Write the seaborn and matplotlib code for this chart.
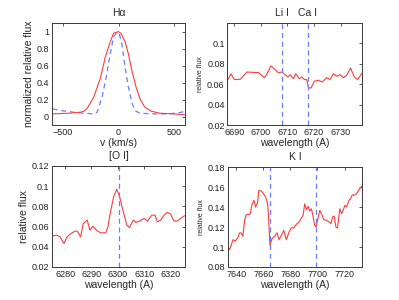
import numpy as np
import pandas as pd
import matplotlib
matplotlib.use("Agg")
import matplotlib.pyplot as plt
import matplotlib.transforms as mtransforms
import seaborn as sns

# %%
# Data
# H-alpha profile (velocity in km/s, normalized flux)
ha_v_red = [-588, -440, -340, -309, -279, -221, -162, -118, -74, -44, 0, 21, 59, 88, 118, 156, 191, 235, 294, 368, 485, 588]
ha_f_red = [0.032, 0.040, 0.052, 0.062, 0.099, 0.23, 0.45, 0.70, 0.88, 0.98, 1.0, 0.98, 0.88, 0.74, 0.55, 0.35, 0.21, 0.11, 0.063, 0.040, 0.032, 0.024]
ha_v_blue = [-588, -515, -397, -309, -221, -191, -147, -109, -79, -44, -15, 6, 29, 59, 88, 118, 147, 191, 309, 426, 515, 588]
ha_f_blue = [0.091, 0.071, 0.051, 0.040, 0.032, 0.051, 0.23, 0.47, 0.70, 0.94, 0.99, 0.98, 0.86, 0.58, 0.35, 0.17, 0.07, 0.04, 0.032, 0.032, 0.040, 0.059]

# Li I / Ca I region
li_wl = [6687.6, 6688.75, 6690.0, 6692.25, 6694.75, 6696.6, 6699.1, 6701.25, 6702.25, 6703.75,
         6705.4, 6706.6, 6707.9, 6709.1, 6710.1, 6711.0, 6712.25, 6713.1, 6714.4, 6715.4,
         6716.4, 6717.25, 6717.9, 6718.9, 6720.1, 6721.6, 6723.1, 6724.75, 6726.0, 6727.25,
         6728.5, 6729.75, 6731.0, 6732.25, 6733.75, 6735.1, 6736.4, 6737.9]
li_flux = [0.0644, 0.0700, 0.0644, 0.0647, 0.0718, 0.0715, 0.0712, 0.0663, 0.0696, 0.0777,
           0.0741, 0.0709, 0.0718, 0.0692, 0.0670, 0.0692, 0.0653, 0.0702, 0.0653, 0.0670,
           0.0644, 0.0644, 0.0563, 0.0563, 0.0628, 0.0637, 0.0621, 0.0663, 0.0644, 0.0702,
           0.0676, 0.0692, 0.0663, 0.0686, 0.0757, 0.0670, 0.0644, 0.0702]
li_lines = [6707.8, 6717.7]

# [O I] region
oi_wl = [6275.0, 6276.9, 6278.1, 6279.6, 6280.6, 6281.9, 6283.75, 6284.6, 6285.9, 6286.9,
         6288.4, 6289.4, 6290.6, 6291.9, 6293.4, 6295.4, 6296.25, 6297.1, 6298.4, 6299.6,
         6300.6, 6301.9, 6303.4, 6304.4, 6305.9, 6306.9, 6308.4, 6310.0, 6311.25, 6312.9,
         6314.1, 6315.0, 6316.25, 6317.5, 6318.75, 6320.0, 6321.25, 6322.5, 6323.75, 6325.25]
oi_flux = [0.0508, 0.0515, 0.0498, 0.0432, 0.0491, 0.0525, 0.0554, 0.0554, 0.0498, 0.0630,
           0.0664, 0.0564, 0.0604, 0.0564, 0.0538, 0.0538, 0.0597, 0.0730, 0.0895, 0.0968,
           0.0902, 0.0763, 0.0614, 0.0591, 0.0664, 0.0640, 0.0657, 0.0680, 0.0654, 0.0713,
           0.0713, 0.0647, 0.0664, 0.0713, 0.0740, 0.0723, 0.0654, 0.0654, 0.0680, 0.0707]
oi_lines = [6300.3]

# K I region
ki_wl = [7633.8, 7635.1, 7636.3, 7637.5, 7639.3, 7641.2, 7642.5, 7643.7, 7644.9, 7646.2,
         7647.4, 7649.4, 7650.4, 7651.6, 7653.1, 7654.3, 7655.6, 7656.8, 7658.5, 7660.2,
         7661.7, 7663.2, 7664.0, 7664.9, 7666.4, 7668.4, 7670.1, 7671.6, 7673.3, 7675.1,
         7677.0, 7679.0, 7680.7, 7682.5, 7684.4, 7686.4, 7688.1, 7689.4, 7690.6, 7691.9,
         7693.1, 7694.3, 7695.6, 7696.8, 7698.0, 7699.0, 7700.0, 7701.7, 7703.5, 7704.7,
         7706.7, 7708.6, 7709.9, 7711.1, 7712.3, 7713.6, 7714.8, 7716.5, 7717.8, 7719.0,
         7720.2, 7721.5, 7723.2, 7724.4, 7725.7, 7726.9, 7728.9, 7730.6, 7732.6]
ki_flux = [0.1000, 0.0973, 0.1017, 0.1073, 0.1060, 0.1093, 0.1143, 0.1140, 0.1107, 0.1267,
           0.1323, 0.1327, 0.1333, 0.1423, 0.1467, 0.1400, 0.1440, 0.1567, 0.1560, 0.1533,
           0.1500, 0.1433, 0.1267, 0.1017, 0.1083, 0.1107, 0.1143, 0.1073, 0.1117, 0.1167,
           0.1073, 0.1150, 0.1193, 0.1190, 0.1227, 0.1250, 0.1290, 0.1317, 0.1433, 0.1373,
           0.1407, 0.1360, 0.1383, 0.1300, 0.1217, 0.1200, 0.1267, 0.1367, 0.1317, 0.1273,
           0.1267, 0.1250, 0.1233, 0.1300, 0.1310, 0.1200, 0.1190, 0.1383, 0.1333, 0.1367,
           0.1417, 0.1400, 0.1467, 0.1483, 0.1523, 0.1517, 0.1533, 0.1573, 0.1607]
ki_lines = [7664.9, 7699.0]

RED = "#ff3b3b"
BLUE = "#6a7cff"
AXCOL = "#3a3a3a"
TICK_FS = 6.5
LABEL_FS = 7.5
SMALL_FS = 5

# %%
# Style (MATLAB-like boxed axes)
sns.set_style("white")
plt.rcParams["font.family"] = ["Liberation Sans", "DejaVu Sans"]
plt.rcParams["xtick.direction"] = "in"
plt.rcParams["ytick.direction"] = "in"

fig = plt.figure(figsize=(3.99, 3.0), dpi=100)
ax_ha = fig.add_axes([0.130, 0.583, 0.334, 0.340])
ax_li = fig.add_axes([0.570, 0.583, 0.337, 0.340])
ax_oi = fig.add_axes([0.130, 0.110, 0.334, 0.337])
ax_ki = fig.add_axes([0.571, 0.110, 0.336, 0.333])


def style_axes(ax):
    for s in ax.spines.values():
        s.set_color(AXCOL)
        s.set_linewidth(0.7)
    ax.tick_params(axis="both", which="both", direction="in", length=2.5, width=0.6,
                   color=AXCOL, labelsize=TICK_FS, pad=2, top=True, right=True,
                   labelcolor="#222222")


def draw_spec(ax, wl, flux, lines):
    df = pd.DataFrame({"wl": wl, "flux": flux})
    sns.lineplot(data=df, x="wl", y="flux", ax=ax, color=RED, lw=0.8, sort=False)
    for lw_ in lines:
        ax.axvline(lw_, color=BLUE, ls=(0, (4, 3)), lw=0.9)
    ax.set_xlabel("wavelength (A)", fontsize=LABEL_FS, labelpad=1)


# H-alpha panel
df_r = pd.DataFrame({"v": ha_v_red, "f": ha_f_red})
df_b = pd.DataFrame({"v": ha_v_blue, "f": ha_f_blue})
sns.lineplot(data=df_b, x="v", y="f", ax=ax_ha, color=BLUE, lw=0.9, ls=(0, (4, 3)), sort=False)
sns.lineplot(data=df_r, x="v", y="f", ax=ax_ha, color=RED, lw=0.8, sort=False)
ax_ha.set_xlim(-595, 595)
ax_ha.set_ylim(-0.1, 1.1)
ax_ha.set_xticks([-500, 0, 500])
ax_ha.set_yticks([0, 0.2, 0.4, 0.6, 0.8, 1])
ax_ha.set_yticklabels(["0", "0.2", "0.4", "0.6", "0.8", "1"])
ax_ha.set_xlabel("v (km/s)", fontsize=LABEL_FS, labelpad=1)
ax_ha.set_ylabel("normalized relative flux", fontsize=LABEL_FS, labelpad=2)
ax_ha.set_title("H\u03b1", fontsize=LABEL_FS, pad=5)

# Li I / Ca I panel
draw_spec(ax_li, li_wl, li_flux, li_lines)
ax_li.set_xlim(6687.4, 6738.0)
ax_li.set_ylim(0.02, 0.1195)
ax_li.set_xticks([6690, 6700, 6710, 6720, 6730])
ax_li.set_yticks([0.02, 0.04, 0.06, 0.08, 0.1])
ax_li.set_yticklabels(["0.02", "0.04", "0.06", "0.08", "0.1"])
ax_li.set_ylabel("relative flux", fontsize=SMALL_FS, labelpad=2)
trans = mtransforms.blended_transform_factory(ax_li.transData, ax_li.transAxes)
ax_li.text(li_lines[0], 1.05, "Li I", transform=trans, ha="center", va="bottom", fontsize=LABEL_FS)
ax_li.text(li_lines[1], 1.05, "Ca I", transform=trans, ha="center", va="bottom", fontsize=LABEL_FS)

# [O I] panel
draw_spec(ax_oi, oi_wl, oi_flux, oi_lines)
ax_oi.set_xlim(6275, 6325.5)
ax_oi.set_ylim(0.02, 0.12)
ax_oi.set_xticks([6280, 6290, 6300, 6310, 6320])
ax_oi.set_yticks([0.02, 0.04, 0.06, 0.08, 0.1, 0.12])
ax_oi.set_yticklabels(["0.02", "0.04", "0.06", "0.08", "0.1", "0.12"])
ax_oi.set_ylabel("relative flux", fontsize=LABEL_FS, labelpad=2)
ax_oi.set_title("[O I]", fontsize=LABEL_FS, pad=5)

# K I panel
draw_spec(ax_ki, ki_wl, ki_flux, ki_lines)
ax_ki.set_xlim(7633.8, 7732.8)
ax_ki.set_ylim(0.08, 0.18)
ax_ki.set_xticks([7640, 7660, 7680, 7700, 7720])
ax_ki.set_yticks([0.08, 0.1, 0.12, 0.14, 0.16, 0.18])
ax_ki.set_yticklabels(["0.08", "0.1", "0.12", "0.14", "0.16", "0.18"])
ax_ki.set_ylabel("relative flux", fontsize=SMALL_FS, labelpad=2)
ax_ki.set_title("K I", fontsize=LABEL_FS, pad=5)

for ax in (ax_ha, ax_li, ax_oi, ax_ki):
    style_axes(ax)

fig.savefig("out.png", dpi=100)
